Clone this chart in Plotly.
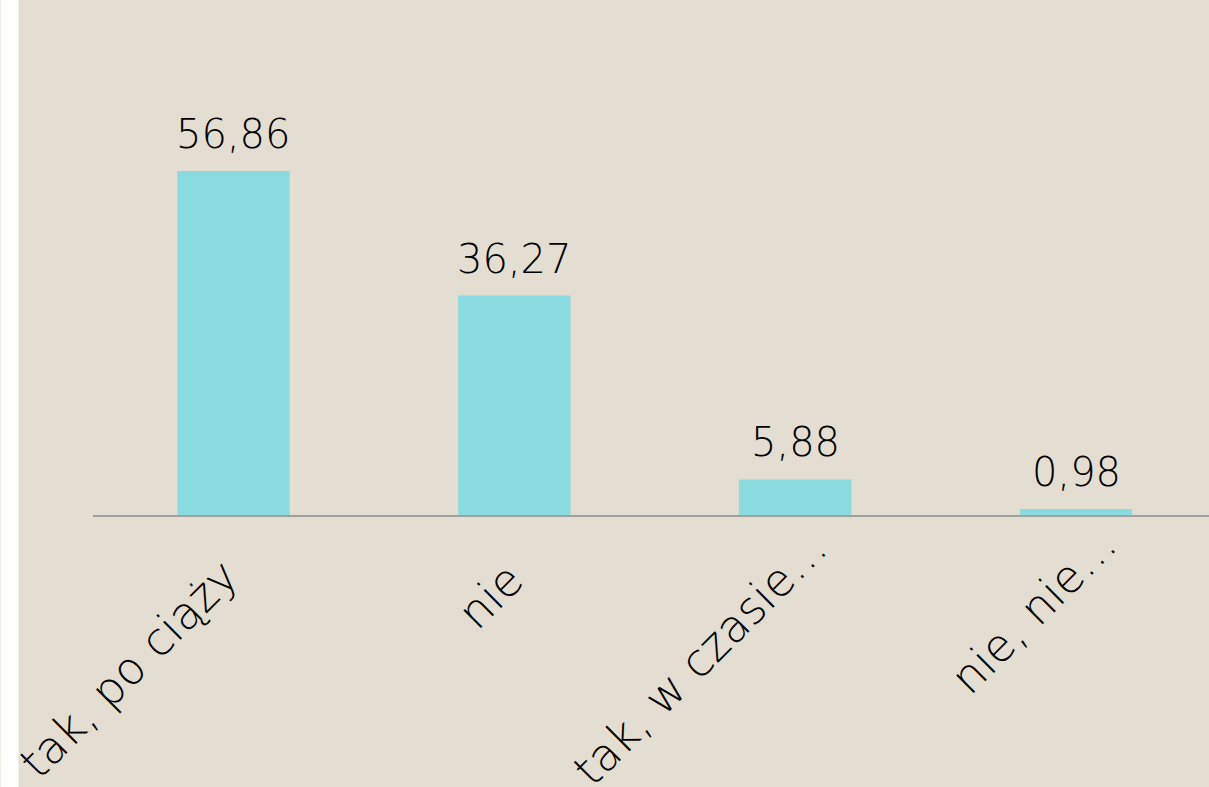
import plotly.graph_objects as go

categories = ["tak, po ciąży", "nie", "tak, w czasie…", "nie, nie…"]
values = [56.86, 36.27, 5.88, 0.98]

BG = "#E3DDD2"
BAR = "#8ADBE0"
FONT = "DejaVu Sans"

# pixel offsets of the rotated category labels (centre of text relative to tick)
label_dx = [-105, -24, -95, -43]
label_dy = [-154, -81, -143, -96]

fig = go.Figure()
fig.add_trace(go.Bar(
    x=categories, y=values, marker=dict(color=BAR, line=dict(width=0)),
    width=0.4, hoverinfo="skip",
))

for c, v in zip(categories, values):
    fig.add_annotation(
        x=c, y=v, text=f"{v:.2f}".replace(".", ","), showarrow=False,
        yanchor="bottom", yshift=12,
        font=dict(family=FONT, size=40, color="#000000", weight=300),
    )

for c, dx, dy in zip(categories, label_dx, label_dy):
    fig.add_annotation(
        x=c, xref="x", y=0, yref="paper", text=c, showarrow=False,
        textangle=-45, xanchor="center", yanchor="middle",
        xshift=dx, yshift=dy,
        font=dict(family=FONT, size=45, color="#000000", weight=300),
    )

left = 92.5
width = 1209 - left
fig.add_shape(
    type="rect", xref="paper", yref="paper",
    x0=(0 - left) / width, x1=(18 - left) / width, y0=-3, y1=3,
    fillcolor="#FFFFFF", line=dict(width=0), layer="below",
)

fig.update_layout(
    width=1209, height=787,
    margin=dict(l=left, r=0, t=152, b=272, autoexpand=False),
    paper_bgcolor=BG, plot_bgcolor=BG,
    showlegend=False,
    font=dict(family=FONT, color="#000000"),
    xaxis=dict(
        range=[-0.5, 3.5 - 7.5 / 281], showgrid=False, zeroline=False,
        showline=True, linecolor="#A0A0A0", linewidth=1.5,
        ticks="", showticklabels=False, automargin=False,
        fixedrange=True,
    ),
    yaxis=dict(range=[0, 60], visible=False, fixedrange=True, automargin=False),
)

fig.write_html(
    "out.html",
    config={"displayModeBar": False},
    post_script="document.body.style.margin='0';document.body.style.overflow='hidden';",
)
